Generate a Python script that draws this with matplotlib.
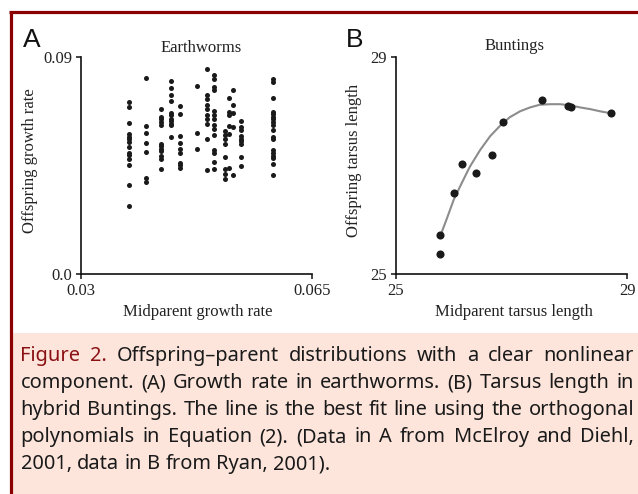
import matplotlib
matplotlib.use('Agg')
import matplotlib.pyplot as plt
from matplotlib.patches import Rectangle
from matplotlib.lines import Line2D

# %% data
# Earthworms: midparent growth rate (columns) and offspring growth rates per column
worm_mid = [0.0373, 0.0399, 0.0421, 0.0436, 0.0450, 0.0476, 0.0491, 0.0502,
            0.0518, 0.0524, 0.0530, 0.0543, 0.0591]
worm_off = [
    [0.0715, 0.0694, 0.0625, 0.0579, 0.0570, 0.0559, 0.0549, 0.0528, 0.0500, 0.0494, 0.0476, 0.0452, 0.0369, 0.0284],
    [0.0813, 0.0614, 0.0586, 0.0542, 0.0505, 0.0400, 0.0380],
    [0.0686, 0.0651, 0.0641, 0.0630, 0.0617, 0.0541, 0.0531, 0.0520, 0.0509, 0.0489, 0.0478, 0.0437],
    [0.0799, 0.0771, 0.0741, 0.0719, 0.0669, 0.0658, 0.0644, 0.0633, 0.0624, 0.0617, 0.0567],
    [0.0695, 0.0665, 0.0572, 0.0545, 0.0517, 0.0503, 0.0462, 0.0451, 0.0440],
    [0.0780, 0.0586, 0.0517],
    [0.0852, 0.0744, 0.0724, 0.0700, 0.0683, 0.0661, 0.0644, 0.0624, 0.0559, 0.0430],
    [0.0827, 0.0810, 0.0776, 0.0762, 0.0675, 0.0658, 0.0644, 0.0619, 0.0603, 0.0578, 0.0513, 0.0503, 0.0465, 0.0437],
    [0.0592, 0.0578, 0.0559, 0.0541, 0.0485, 0.0437, 0.0416, 0.0393],
    [0.0730, 0.0672, 0.0661, 0.0614, 0.0582, 0.0440],
    [0.0763, 0.0700, 0.0668, 0.0610, 0.0409],
    [0.0636, 0.0610, 0.0596, 0.0572, 0.0561, 0.0550, 0.0541, 0.0485, 0.0448],
    [0.0807, 0.0798, 0.0729, 0.0673, 0.0662, 0.0653, 0.0643, 0.0632, 0.0618, 0.0597, 0.0567, 0.0559, 0.0514, 0.0503, 0.0489, 0.0480, 0.0456, 0.0411],
]

# Buntings: midparent vs offspring tarsus length
bunt_mid = [25.77, 25.77, 26.00, 26.15, 26.38, 26.66, 26.86, 27.52, 27.97, 28.03, 28.73]
bunt_off = [25.37, 25.71, 26.49, 27.02, 26.86, 27.19, 27.81, 28.21, 28.10, 28.07, 27.96]

# best fit line
fit_x = [25.77, 25.88, 26.00, 26.14, 26.28, 26.46, 26.63, 26.80, 26.97, 27.15,
         27.32, 27.49, 27.67, 27.84, 28.01, 28.19, 28.36, 28.53, 28.73]
fit_y = [25.71, 26.02, 26.37, 26.68, 26.98, 27.29, 27.54, 27.73, 27.89, 28.00,
         28.07, 28.12, 28.13, 28.13, 28.11, 28.07, 28.04, 28.00, 27.96]

worm_xticks = [0.03, 0.065]
worm_xticklabels = ['0.03', '0.065']
worm_yticks = [0.0, 0.09]
worm_yticklabels = ['0.0', '0.09']
bunt_ticks = [25, 29]
bunt_ticklabels = ['25', '29']

caption_lines = [
    'Figure 2. Offspring\u2013parent distributions with a clear nonlinear',
    'component. (A) Growth rate in earthworms. (B) Tarsus length in',
    'hybrid Buntings. The line is the best fit line using the orthogonal',
    'polynomials in Equation (2). (Data in A from McElroy and Diehl,',
    '2001, data in B from Ryan, 2001).',
]

# %% figure
W, H = 638, 494
fig = plt.figure(figsize=(W / 100, H / 100), dpi=100)
fig.patch.set_facecolor('white')


def fx(px):
    return px / W


def fy(py):
    return 1 - py / H


SERIF = 'Liberation Serif'
dark_red = '#8b1014'

# background box and border
fig.add_artist(Rectangle((fx(12), 0), 1 - fx(12), fy(333), transform=fig.transFigure,
                         facecolor='#fde5dc', edgecolor='none', zorder=0))
fig.add_artist(Line2D([fx(9), 1], [fy(12.5), fy(12.5)], transform=fig.transFigure,
                      color='#8b0000', lw=2.3, solid_capstyle='butt'))
fig.add_artist(Line2D([fx(10.5), fx(10.5)], [fy(11), 0], transform=fig.transFigure,
                      color='#8b0000', lw=2.3, solid_capstyle='butt'))

axA = fig.add_axes([fx(81), fy(274), 231 / W, 217 / H])
axB = fig.add_axes([fx(396), fy(274), 231 / W, 217 / H])

for mx, ys in zip(worm_mid, worm_off):
    axA.scatter([mx] * len(ys), ys, s=13, color='#1a1a1a', linewidths=0, clip_on=False, zorder=3)

axB.plot(fit_x, fit_y, color='#8c8c8c', lw=1.5, zorder=2)
axB.scatter(bunt_mid, bunt_off, s=34, color='#1a1a1a', linewidths=0, clip_on=False, zorder=3)

axA.set_xlim(0.03, 0.065)
axA.set_ylim(0.0, 0.09)
axA.set_xticks(worm_xticks)
axA.set_xticklabels(worm_xticklabels)
axA.set_yticks(worm_yticks)
axA.set_yticklabels(worm_yticklabels)

axB.set_xlim(25, 29)
axB.set_ylim(25, 29)
axB.set_xticks(bunt_ticks)
axB.set_xticklabels(bunt_ticklabels)
axB.set_yticks(bunt_ticks)
axB.set_yticklabels(bunt_ticklabels)

for ax in (axA, axB):
    ax.set_facecolor('none')
    for side in ('top', 'right'):
        ax.spines[side].set_visible(False)
    for side in ('left', 'bottom'):
        ax.spines[side].set_linewidth(1.2)
        ax.spines[side].set_color('#111111')
    ax.tick_params(direction='out', length=3.5, width=1.1, color='#111111', pad=3)
    for lab in ax.get_xticklabels() + ax.get_yticklabels():
        lab.set_fontfamily(SERIF)
        lab.set_fontsize(12)
        lab.set_color('#222222')

# titles, axis labels, panel letters
fig.text(fx(201), fy(51.5), 'Earthworms', ha='center', va='baseline', family=SERIF, fontsize=12, color='#222222')
fig.text(fx(515), fy(50.5), 'Buntings', ha='center', va='baseline', family=SERIF, fontsize=12, color='#222222')
fig.text(fx(29.5), fy(161), 'Offspring growth rate', rotation=90, ha='center', va='center',
         family=SERIF, fontsize=12, color='#222222')
fig.text(fx(353.5), fy(160), 'Offspring tarsus length', rotation=90, ha='center', va='center',
         family=SERIF, fontsize=12, color='#222222')
fig.text(fx(197.5), fy(312), 'Midparent growth rate', ha='center', va='center',
         family=SERIF, fontsize=12, color='#222222')
fig.text(fx(514), fy(312), 'Midparent tarsus length', ha='center', va='center',
         family=SERIF, fontsize=12, color='#222222')
fig.text(fx(22.5), fy(47), 'A', ha='left', va='baseline', family='Liberation Sans', fontsize=19, color='#111111')
fig.text(fx(346), fy(47), 'B', ha='left', va='baseline', family='Liberation Sans', fontsize=19, color='#111111')

# caption, justified line by line
cap_left, cap_right = 20.5, 634
cap_base = [361, 388, 415, 442, 469]
cap_kw = dict(family='Noto Sans', fontsize=14.4)
fig.canvas.draw()
rend = fig.canvas.get_renderer()
for i, (line, base) in enumerate(zip(caption_lines, cap_base)):
    words = line.split(' ')
    colors = ['#1a1a1a'] * len(words)
    if i == 0:
        colors[0] = colors[1] = dark_red
    if i == len(caption_lines) - 1:
        # last line: ragged, natural spacing
        probe = fig.text(0, 0, 'a a', **cap_kw)
        probe2 = fig.text(0, 0, 'aa', **cap_kw)
        sp = probe.get_window_extent(rend).width - probe2.get_window_extent(rend).width
        probe.remove()
        probe2.remove()
        x = cap_left
        for w, c in zip(words, colors):
            t = fig.text(fx(x), fy(base), w, ha='left', va='baseline', color=c, **cap_kw)
            x += t.get_window_extent(rend).width + sp
        continue
    texts = []
    widths = []
    for w, c in zip(words, colors):
        t = fig.text(0, fy(base), w, ha='left', va='baseline', color=c, **cap_kw)
        texts.append(t)
        widths.append(t.get_window_extent(rend).width)
    gap = (cap_right - cap_left - sum(widths)) / (len(words) - 1)
    x = cap_left
    for t, wd in zip(texts, widths):
        t.set_x(fx(x))
        x += wd + gap

fig.savefig('out.png', dpi=100)
